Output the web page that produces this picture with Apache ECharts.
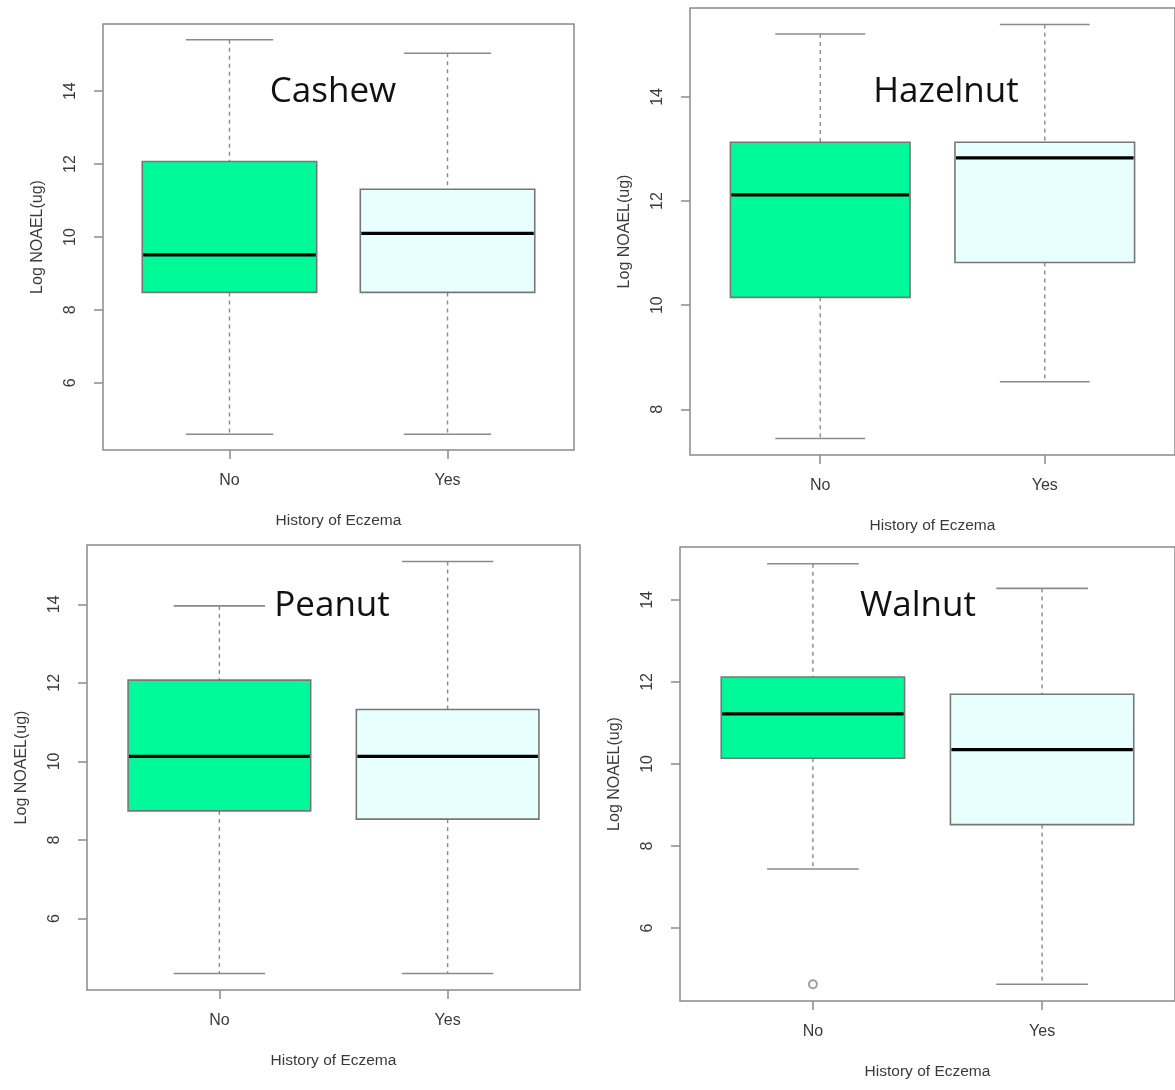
<!DOCTYPE html>
<html>
<head>
<meta charset="utf-8">
<script src="https://cdn.jsdelivr.net/npm/echarts@6.0.0/dist/echarts.min.js"></script>
<style>
  html, body { margin: 0; padding: 0; background: #ffffff; }
  #chart { width: 1175px; height: 1090px; }
</style>
</head>
<body>
<div id="chart"></div>
<script>
// ---- data ----
const categories = ['No', 'Yes'];
const panelNames = ['Cashew', 'Hazelnut', 'Peanut', 'Walnut'];
// each box: [lower whisker, Q1, median, Q3, upper whisker]
const cashewNo    = [4.59, 8.48, 9.51, 12.07, 15.41];
const cashewYes   = [4.59, 8.48, 10.10, 11.31, 15.04];
const hazelnutNo  = [7.44, 10.15, 12.12, 13.13, 15.21];
const hazelnutYes = [8.53, 10.82, 12.83, 13.13, 15.39];
const peanutNo    = [4.60, 8.74, 10.13, 12.07, 13.96];
const peanutYes   = [4.60, 8.53, 10.13, 11.32, 15.09];
const walnutNo    = [7.44, 10.14, 11.22, 12.12, 14.88];
const walnutYes   = [4.63, 8.52, 10.35, 11.70, 14.28];
// outliers: [category index, value]
const cashewOut = [];
const hazelnutOut = [];
const peanutOut = [];
const walnutOut = [[0, 4.63]];
// y tick labels per panel
const cashewTicks = [6, 8, 10, 12, 14];
const hazelnutTicks = [8, 10, 12, 14];
const peanutTicks = [6, 8, 10, 12, 14];
const walnutTicks = [6, 8, 10, 12, 14];
const xTitle = 'History of Eczema';
const yTitle = 'Log NOAEL(ug)';

// ---- layout / style ----
const panelData = [
  { boxes: [cashewNo, cashewYes], out: cashewOut, ticks: cashewTicks },
  { boxes: [hazelnutNo, hazelnutYes], out: hazelnutOut, ticks: hazelnutTicks },
  { boxes: [peanutNo, peanutYes], out: peanutOut, ticks: peanutTicks },
  { boxes: [walnutNo, walnutYes], out: walnutOut, ticks: walnutTicks }
];
const grids = [
  { left: 103, top: 24, width: 471, height: 426 },
  { left: 690, top: 8, width: 492, height: 447 },
  { left: 87, top: 545, width: 493, height: 445 },
  { left: 680, top: 547, width: 501, height: 454 }
];
const labelPos = [[333, 92], [946, 92], [332, 606], [918, 606]];
const boxFills = ['#00FA9A', '#E8FFFF'];
const lineGray = '#8a8a8a';
const textGray = '#3a3a3a';
const fontFam = '"Liberation Sans", Arial, sans-serif';

function renderBox(params, api) {
  const x = api.value(0);
  const lo = api.value(1), q1 = api.value(2), med = api.value(3), q3 = api.value(4), hi = api.value(5);
  const halfBox = api.size([0.4, 0])[0];
  const halfCap = api.size([0.2, 0])[0];
  const pLo = api.coord([x, lo]);
  const pQ1 = api.coord([x, q1]);
  const pMed = api.coord([x, med]);
  const pQ3 = api.coord([x, q3]);
  const pHi = api.coord([x, hi]);
  const cx = pLo[0];
  const dash = { stroke: lineGray, lineWidth: 1.4, lineDash: [4, 4] };
  const solid = { stroke: lineGray, lineWidth: 1.6 };
  return {
    type: 'group',
    children: [
      { type: 'line', shape: { x1: cx, y1: pHi[1], x2: cx, y2: pQ3[1] }, style: dash },
      { type: 'line', shape: { x1: cx, y1: pQ1[1], x2: cx, y2: pLo[1] }, style: dash },
      { type: 'line', shape: { x1: cx - halfCap, y1: pHi[1], x2: cx + halfCap, y2: pHi[1] }, style: solid },
      { type: 'line', shape: { x1: cx - halfCap, y1: pLo[1], x2: cx + halfCap, y2: pLo[1] }, style: solid },
      { type: 'rect', shape: { x: cx - halfBox, y: pQ3[1], width: 2 * halfBox, height: pQ1[1] - pQ3[1] },
        style: { fill: boxFills[params.dataIndex], stroke: '#777777', lineWidth: 1.6 } },
      { type: 'line', shape: { x1: cx - halfBox + 1, y1: pMed[1], x2: cx + halfBox - 1, y2: pMed[1] },
        style: { stroke: '#000000', lineWidth: 3.2 } }
    ]
  };
}

const option = {
  animation: false,
  backgroundColor: '#ffffff',
  grid: [], xAxis: [], yAxis: [], series: [], graphic: []
};

panelData.forEach((p, i) => {
  const g = grids[i];
  option.grid.push(Object.assign({ show: true, borderColor: lineGray, borderWidth: 1.5, backgroundColor: 'transparent' }, g));
  let all = [];
  p.boxes.forEach(b => { all = all.concat(b); });
  p.out.forEach(o => all.push(o[1]));
  const lo = Math.min.apply(null, all), hi = Math.max.apply(null, all);
  const pad = 0.04 * (hi - lo);
  const xPad = 0.04 * categories.length;
  option.xAxis.push({
    type: 'value', gridIndex: i,
    min: 0.5 - xPad, max: categories.length + 0.5 + xPad,
    name: xTitle, nameLocation: 'middle', nameGap: 63,
    nameTextStyle: { color: textGray, fontSize: 15.5, fontFamily: fontFam },
    axisLine: { show: false },
    splitLine: { show: false },
    axisTick: { show: true, length: 9, customValues: [1, 2], lineStyle: { color: lineGray, width: 1.5 } },
    axisLabel: { customValues: [1, 2], margin: 23, color: textGray, fontSize: 16, fontFamily: fontFam,
      formatter: v => categories[Math.round(v) - 1] || '' }
  });
  option.yAxis.push({
    type: 'value', gridIndex: i,
    min: lo - pad, max: hi + pad,
    name: yTitle, nameLocation: 'middle', nameGap: 57, nameRotate: 90,
    nameTextStyle: { color: textGray, fontSize: 16, fontFamily: fontFam },
    axisLine: { show: false },
    splitLine: { show: false },
    axisTick: { show: true, length: 9, customValues: p.ticks, lineStyle: { color: lineGray, width: 1.5 } },
    axisLabel: { customValues: p.ticks, rotate: 90, margin: 24, color: textGray, fontSize: 16, fontFamily: fontFam }
  });
  option.series.push({
    type: 'custom', xAxisIndex: i, yAxisIndex: i,
    renderItem: renderBox,
    encode: { x: 0, y: [1, 2, 3, 4, 5] },
    data: p.boxes.map((b, k) => [k + 1].concat(b)),
    clip: false,
    z: 2
  });
  if (p.out.length) {
    option.series.push({
      type: 'scatter', xAxisIndex: i, yAxisIndex: i,
      symbol: 'emptyCircle', symbolSize: 8,
      itemStyle: { color: lineGray, borderColor: lineGray, borderWidth: 1.5 },
      data: p.out.map(o => [o[0] + 1, o[1]]),
      z: 3
    });
  }
  option.graphic.push({
    type: 'text', x: labelPos[i][0], y: labelPos[i][1],
    style: { text: panelNames[i], fill: '#111111', fontSize: 35, fontFamily: '"Open Sans", "Noto Sans", sans-serif',
      align: 'center', verticalAlign: 'middle' }
  });
});

const chart = echarts.init(document.getElementById('chart'), null, { renderer: 'canvas' });
chart.setOption(option);
</script>
</body>
</html>
